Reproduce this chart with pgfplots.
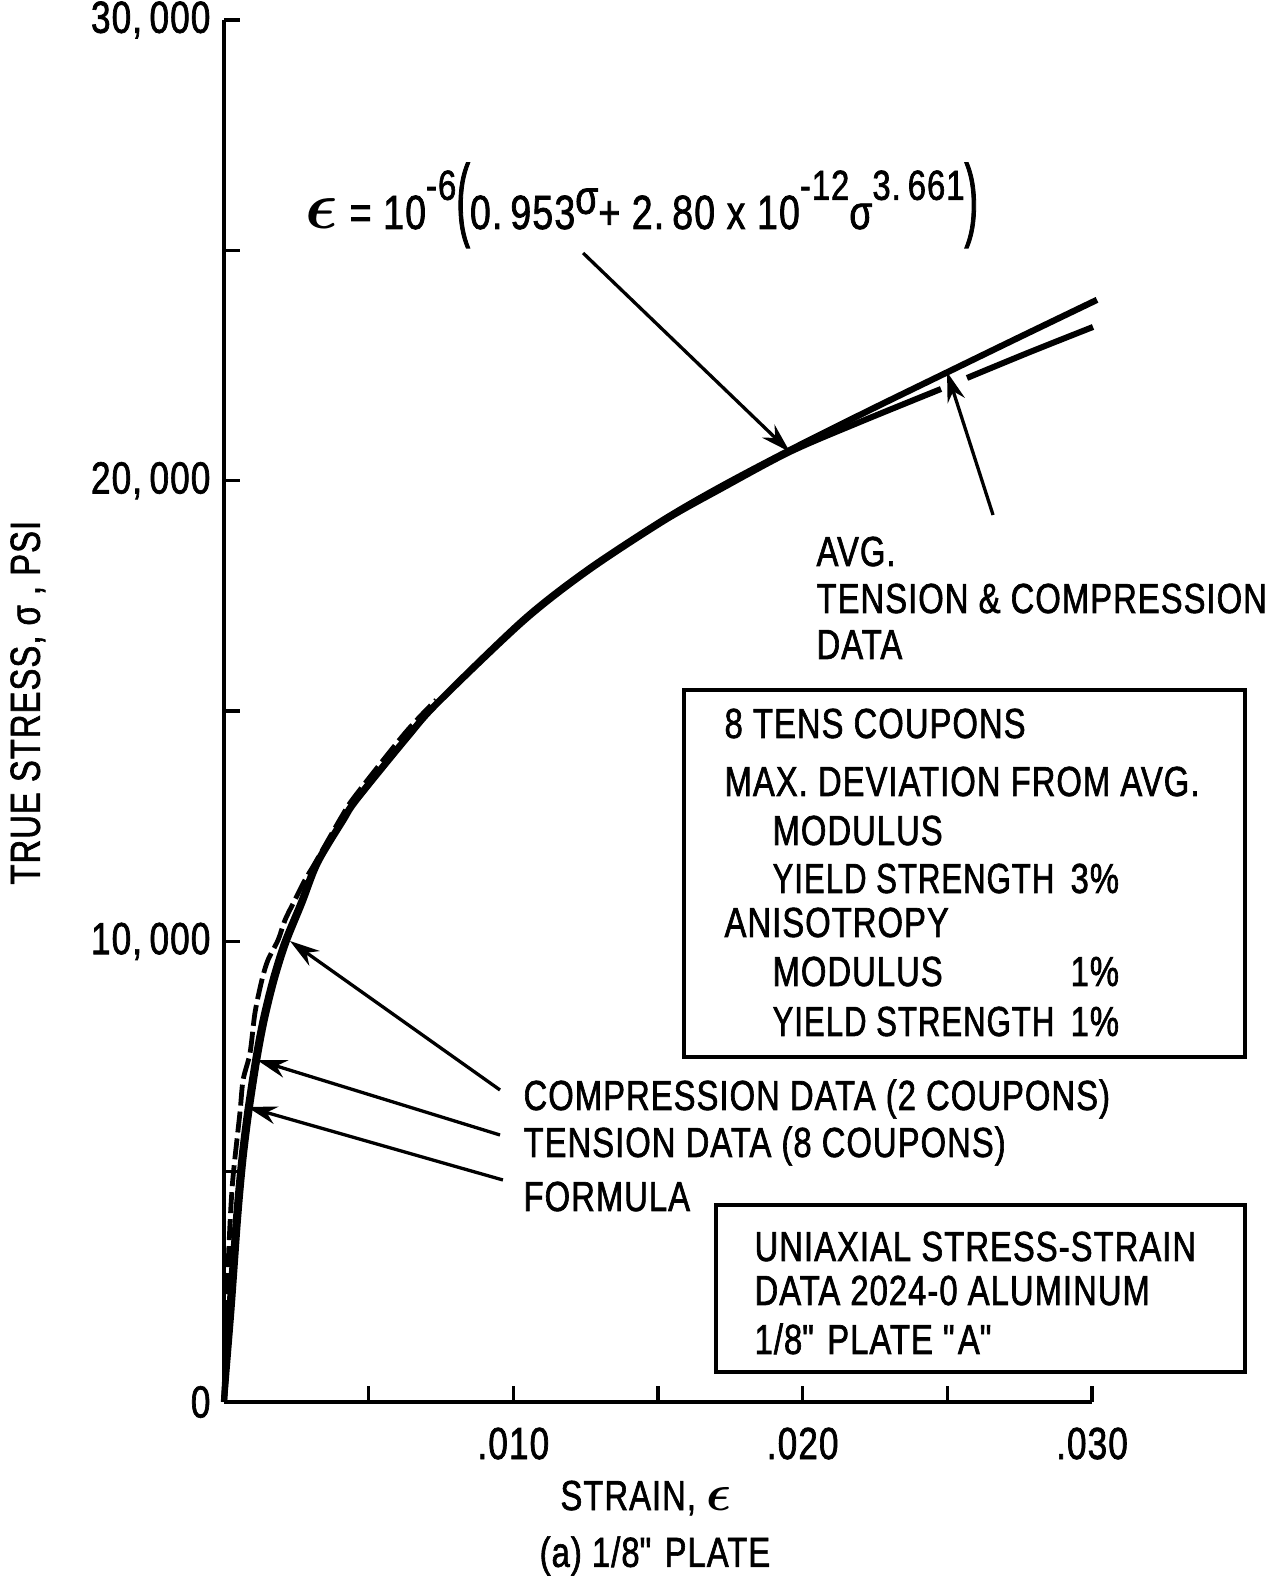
\documentclass[border=0pt]{standalone}
\usepackage{pgfplots}
\pgfplotsset{compat=1.18}
\usepackage{pgfplotstable}
\usepackage{bm}
\usepackage{fontspec}
\setmainfont{Liberation Sans}[FakeStretch=0.78, FakeBold=1.5, LetterSpace=2.5]
\usetikzlibrary{arrows.meta}

% formula curve (strain, true stress psi)
\pgfplotstableread{
eps sig
0 0
0.00019 2000
0.00042 4000
0.00060 5250
0.00080 6274
0.00108 7424
0.00134 8292
0.00168 9161
0.00208 9964
0.00265 10832
0.00320 11701
0.00410 12634
0.00455 13068
0.006325 14436
0.007362 15174
0.010334 16976
0.012546 18061
0.015173 19147
0.017143 19863
0.019563 20666
0.022328 21535
0.024989 22350
0.027512 23120
0.030173 23925
}\formula

% tension data / avg tension & compression
\pgfplotstableread{
eps sig
0 0
0.00026 2000
0.00049 4000
0.00067 5250
0.00087 6274
0.00115 7424
0.00141 8292
0.00175 9161
0.00215 9964
0.00271 10832
0.00325 11701
0.00414 12634
0.00459 13068
0.006360 14436
0.007396 15174
0.010369 16954
0.012581 18040
0.015208 19125
0.017178 19820
0.019563 20623
0.021982 21274
0.024782 21990
0.0252 nan
0.025680 22229
0.027858 22793
0.030035 23336
}\avgdata

% compression data (2 coupons)
\pgfplotstableread{
eps sig
0 0
0.00009 2000
0.00018 3500
0.00030 4800
0.00055 6274
0.00066 6990
0.00090 7576
0.00107 8444
0.00131 9161
0.00152 9595
0.00187 10029
0.00211 10463
0.00245 10897
0.00280 11332
0.00315 11701
0.00410 12743
0.00456 13177
0.00626 14523
0.00733 15239
}\compdata

\newcommand{\supx}[1]{\raisebox{1.15ex}{\fontsize{14}{15}\selectfont #1}}
\newcommand{\ys}{\scalebox{0.95}[1]{YIELD STRENGTH}}

\begin{document}
\begin{tikzpicture}[font=\fontsize{14}{16.8}\selectfont,
  lbl/.style={anchor=base west, inner sep=0pt},
  arr/.style={line width=1.1pt, -{Stealth[length=10pt,width=6pt]}}]
\path[use as bounding box] (-74.667pt,-58.333pt) rectangle (352.667pt,467.333pt);
\begin{axis}[
  at={(0,0)}, anchor=south west,
  scale only axis, width=289.33pt, height=460.67pt,
  xmin=0, xmax=0.030, ymin=0, ymax=30000,
  clip=false,
  axis x line=bottom, axis y line=left,
  axis line style={-, line width=1.4pt},
  xtick={0,0.005,0.010,0.015,0.020,0.025,0.030},
  xticklabels={,,.010,,.020,,.030},
  ytick={0,5000,10000,15000,20000,25000,30000},
  yticklabels={0,,{10,\,000},,{20,\,000},,{30,\,000}},
  scaled x ticks=false, scaled y ticks=false,
  tick align=inside, major tick length=5.5pt,
  tick style={black, line width=1.1pt},
  xticklabel style={yshift=-5pt, font=\fontsize{15}{17}\selectfont},
  yticklabel style={xshift=-1pt, font=\fontsize{15}{17}\selectfont},
  xlabel={STRAIN, \scalebox{1.2}{$\bm{\epsilon}$}},
  ylabel={TRUE STRESS, σ , PSI},
  xlabel style={at={(axis description cs:0.486,-0.0695)}, anchor=center},
  ylabel style={at={(axis description cs:-0.226,0.506)}, anchor=center},
]
\addplot[black, line width=2pt, smooth, unbounded coords=jump] table[x=eps,y=sig] {\avgdata};
\addplot[black, line width=2.1pt, smooth] table[x=eps,y=sig] {\formula};
\addplot[black, line width=1.6pt, smooth, dash pattern=on 7pt off 2pt] table[x=eps,y=sig] {\compdata};

\draw[arr] (axis cs:0.01241,24942) -- (axis cs:0.01956,20623);
\draw[arr] (axis cs:0.02658,19255) -- (axis cs:0.02499,22359);
\draw[arr] (axis cs:0.00954,6773) -- (axis cs:0.00228,10007);
\draw[arr] (axis cs:0.00954,5796) -- (axis cs:0.00114,7424);
\draw[arr] (axis cs:0.00964,4819) -- (axis cs:0.00080,6404);
\node[anchor=center] at (axis description cs:0.4965,-0.1114) {(a) 1/8\textquotedbl{} PLATE};
\end{axis}

\begin{scope}[shift={(-74.667pt,467.333pt)}, x=0.33333pt, y=-0.33333pt]
\node[lbl, font=\fontsize{16}{19}\selectfont] at (305,229) {\scalebox{1.3}{$\bm{\epsilon}$} = 10\supx{-6}\scalebox{1.1}[1.9]{(}0.\,953\raisebox{0.6ex}{σ}+ 2.\,80 x 10\supx{-12}σ\supx{3.\,661}\scalebox{1.1}[1.9]{)}};
\node[lbl] at (816,566) {AVG.};
\node[lbl] at (816,613) {TENSION \& COMPRESSION};
\node[lbl] at (816,659) {DATA};
\draw[line width=1.4pt] (684,690) rectangle (1245,1057);
\node[lbl] at (724,738) {8 TENS COUPONS};
\node[lbl] at (724,796) {MAX. DEVIATION FROM AVG.};
\node[lbl] at (772,845) {MODULUS};
\node[lbl] at (772,893) {\ys};
\node[lbl] at (1070,893) {3\%};
\node[lbl] at (724,937) {ANISOTROPY};
\node[lbl] at (772,986) {MODULUS};
\node[lbl] at (1070,986) {1\%};
\node[lbl] at (772,1036) {\ys};
\node[lbl] at (1070,1036) {1\%};
\node[lbl] at (523,1110) {COMPRESSION DATA (2 COUPONS)};
\node[lbl] at (523,1157) {TENSION DATA (8 COUPONS)};
\node[lbl] at (523,1211) {FORMULA};
\draw[line width=1.4pt] (716,1205) rectangle (1245,1372);
\node[lbl] at (754,1261) {UNIAXIAL STRESS-STRAIN};
\node[lbl] at (754,1305) {DATA 2024-0 ALUMINUM};
\node[lbl] at (754,1354) {1/8\textquotedbl{} PLATE \textquotedbl{}A\textquotedbl};
\end{scope}
\end{tikzpicture}
\end{document}
